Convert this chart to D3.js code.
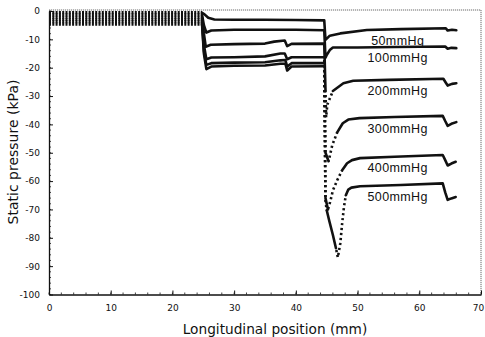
<!DOCTYPE html>
<html><head><meta charset="utf-8">
<script src="https://cdn.jsdelivr.net/npm/d3@7"></script>
<style>body{margin:0;background:#fff}svg{display:block}</style>
</head><body>
<svg id="c" width="485" height="337"></svg>
<script>
// ---- data ----
const xTicks = [0, 10, 20, 30, 40, 50, 60, 70];
const yTicks = [0, -10, -20, -30, -40, -50, -60, -70, -80, -90, -100];
const seriesNames = ["50mmHg", "100mmHg", "200mmHg", "300mmHg", "400mmHg", "500mmHg"];

const s50 = [[0,-0.6],[24.8,-0.6],[25.2,-1.2],[25.8,-2.4],[26.8,-3.0],[30,-3.1],[35,-3.1],[40,-3.2],[44.6,-3.3],
  [44.8,-10.2],[45.5,-8.7],[47.2,-7.9],[51.5,-6.7],[57,-6.4],[64.3,-6.1],[64.6,-6.9],[65.3,-6.6],[66,-6.8]];
const s100 = [[0,-1.4],[24.8,-1.4],[25.1,-5],[25.5,-7.6],[26.3,-6.9],[30,-6.6],[40,-6.6],[44.6,-6.8],
  [44.8,-16.5],[45.0,-15.5],[45.5,-13.8],[46.0,-12.9],[50,-12.9],[56,-12.7],[64.2,-12.5],[64.6,-13.3],[65.2,-13.0],[66,-13.1]];
const s200 = [[0,-2.2],[24.8,-2.2],[25.1,-8],[25.4,-12.6],[26.2,-11.9],[30,-11.7],[35,-11.5],[36.5,-10.8],[38.2,-10.4],[38.6,-12.4],[39.3,-11.6],[44.6,-11.5],
  [44.8,-28],[44.9,-37.5],[45.1,-33],[46,-28.2],[47.7,-25.5],[49.3,-24.6],[55,-24.3],[63.9,-23.9],[64.3,-25.3],[64.6,-26.3],[65.3,-25.7],[66,-25.5]];
const s300 = [[0,-3.0],[24.8,-3.0],[25.1,-12],[25.5,-17],[26.3,-16.4],[30,-16.3],[35,-16],[37.5,-15],[38.2,-15],[38.6,-17],[39.3,-16.3],[44.6,-16.3],
  [44.8,-50],[45.3,-53],[45.9,-47.3],[46.7,-42.8],[47.6,-39.6],[48.5,-38.3],[50.3,-37.8],[56,-37.4],[63.8,-37.0],[64.2,-38.8],[64.6,-40.5],[65.2,-39.8],[66,-39.2]];
const s400 = [[0,-3.8],[24.8,-3.8],[25.1,-14],[25.5,-19],[26.3,-18.4],[30,-18.2],[35,-18.1],[37.5,-17.4],[38.3,-17.3],[38.6,-19.6],[39.3,-18.4],[44.6,-18.4],
  [44.8,-66],[45.2,-70],[45.6,-67],[46,-63.3],[46.7,-59.7],[47.5,-56.2],[48.3,-53.7],[49.1,-52.6],[50.4,-51.9],[56,-51.4],[63.8,-50.8],[64.2,-52.6],[64.6,-54.5],[65.2,-53.8],[65.9,-53.2]];
const s500 = [[0,-4.6],[24.8,-4.6],[25.1,-15],[25.5,-20.5],[26.3,-19.6],[30,-19.3],[35,-19.2],[37.5,-18.6],[38.3,-18.6],[38.6,-21],[39.3,-19.6],[44.6,-19.5],
  [44.8,-67],[45.0,-70.3],[45.4,-73.9],[46,-79],[46.5,-83.7],[46.8,-86.9],[47.2,-82],[47.5,-75],[47.8,-69],[48.1,-65],[48.5,-63],[49,-62.3],[50.4,-61.8],[57,-61.4],[63.8,-60.8],[64.2,-64],[64.6,-66.6],[65.2,-66.1],[65.9,-65.6]];
const seriesValues = [s50, s100, s200, s300, s400, s500];

// ---- drawing ----
const svg = d3.select("#c");
const x = d3.scaleLinear().domain([0, 70]).range([49, 481]);
const y = d3.scaleLinear().domain([-100, 0]).range([294.5, 11]);
const ink = "#111";

// frame (top/right thin dotted)
svg.append("line").attr("x1", x(0)).attr("x2", x(70)).attr("y1", y(0) - 1).attr("y2", y(0) - 1)
  .attr("stroke", "#444").attr("stroke-width", 0.8).attr("stroke-dasharray", "1.2,0.8");
svg.append("line").attr("x1", x(70)).attr("x2", x(70)).attr("y1", y(0) - 1).attr("y2", y(-100))
  .attr("stroke", "#444").attr("stroke-width", 0.8).attr("stroke-dasharray", "1.2,0.8");

// axes
const fmt = d => String(d);
const gy = svg.append("g").attr("transform", `translate(${x(0)},0)`)
  .call(d3.axisLeft(y).tickValues(yTicks).tickFormat(fmt).tickSize(-4).tickSizeOuter(0).tickPadding(9));
const gx = svg.append("g").attr("transform", `translate(0,${y(-100)})`)
  .call(d3.axisBottom(x).tickValues(xTicks).tickFormat(fmt).tickSize(-4).tickSizeOuter(0).tickPadding(10));
[gx, gy].forEach(g => {
  g.select(".domain").attr("stroke", ink).attr("stroke-width", 1.3);
  g.selectAll(".tick line").attr("stroke", ink).attr("stroke-width", 1);
  g.selectAll(".tick text").attr("font-family", "DejaVu Sans").attr("font-size", 9).attr("fill", "#111");
});
// keep the last x label inside the page
gx.selectAll(".tick text").filter(d => d === 70).attr("dx", -3);

// minor ticks
svg.append("g").selectAll("line").data(d3.range(0, 71, 2)).join("line")
  .attr("x1", d => x(d)).attr("x2", d => x(d)).attr("y1", y(-100)).attr("y2", y(-100) - 2)
  .attr("stroke", ink).attr("stroke-width", 0.8);
svg.append("g").selectAll("line").data(d3.range(-100, 1, 2)).join("line")
  .attr("x1", x(0)).attr("x2", x(0) + 2).attr("y1", d => y(d)).attr("y2", d => y(d))
  .attr("stroke", ink).attr("stroke-width", 0.8);

// axis titles
svg.append("text").attr("transform", `translate(13.5,152) rotate(-90)`)
  .attr("text-anchor", "middle").attr("dy", "0.35em")
  .attr("font-family", "DejaVu Sans").attr("font-size", 14).attr("fill", "#111")
  .text("Static pressure (kPa)");
svg.append("text").attr("x", 275).attr("y", 329).attr("dy", "0.35em").attr("text-anchor", "middle")
  .attr("font-family", "DejaVu Sans").attr("font-size", 13.7).attr("fill", "#111")
  .text("Longitudinal position (mm)");

// series
const line = d3.line().x(d => x(d[0])).y(d => y(d[1]));
function segClass(p, q) {
  if (q[0] <= 24.8) return "band";
  const dxp = Math.abs(x(q[0]) - x(p[0])), dyp = Math.abs(y(q[1]) - y(p[1]));
  const mid = (p[1] + q[1]) / 2;
  const steep = dyp > 2 * dxp && dyp > 6;
  const desc = q[1] < p[1];
  if (steep && mid < -26 && !(desc && q[0] - p[0] >= 0.3)) return "dot";
  return "solid";
}
const DOT_PERIOD = 5;
const styles = {
  band: {w: 3.2, dash: "2,1.3", cap: "butt"},
  solid: {w: 2.6, dash: null, cap: "round"},
  dot: {w: 2.6, dash: "2.2,2.8", cap: "butt"}
};
const gs = svg.append("g");
seriesValues.forEach(vals => {
  const runs = [];
  for (let i = 0; i < vals.length - 1; i++) {
    const c = segClass(vals[i], vals[i + 1]);
    const last = runs[runs.length - 1];
    if (last && last.c === c) last.pts.push(vals[i + 1]);
    else runs.push({c, pts: [vals[i], vals[i + 1]]});
  }
  runs.forEach(r => {
    const st = styles[r.c];
    const p = gs.append("path").attr("d", line(r.pts)).attr("fill", "none")
      .attr("stroke", ink).attr("stroke-width", st.w)
      .attr("stroke-linejoin", "round").attr("stroke-linecap", st.cap)
      .attr("stroke-dasharray", st.dash);
    if (r.c === "dot") {
      // anchor the dot pattern to absolute vertical position so overlapping drops stay dotted
      const y0 = y(r.pts[0][1]);
      p.attr("stroke-dashoffset", ((y0 % DOT_PERIOD) + DOT_PERIOD) % DOT_PERIOD);
    }
  });
});

// series labels
const valueAt = (vals, xv) => {
  for (let i = 0; i < vals.length - 1; i++)
    if (vals[i][0] <= xv && vals[i + 1][0] >= xv) {
      const t = (xv - vals[i][0]) / (vals[i + 1][0] - vals[i][0]);
      return vals[i][1] + t * (vals[i + 1][1] - vals[i][1]);
    }
  return vals[vals.length - 1][1];
};
svg.append("g").selectAll("text").data(seriesNames).join("text")
  .attr("x", x(56.5)).attr("y", (d, i) => y(valueAt(seriesValues[i], 55)) + 11)
  .attr("dy", "0.35em").attr("text-anchor", "middle")
  .attr("font-family", "Liberation Sans, Arial, sans-serif").attr("font-size", 12.5)
  .attr("letter-spacing", 0.4).attr("fill", "#111")
  .text(d => d);
</script>
</body></html>
